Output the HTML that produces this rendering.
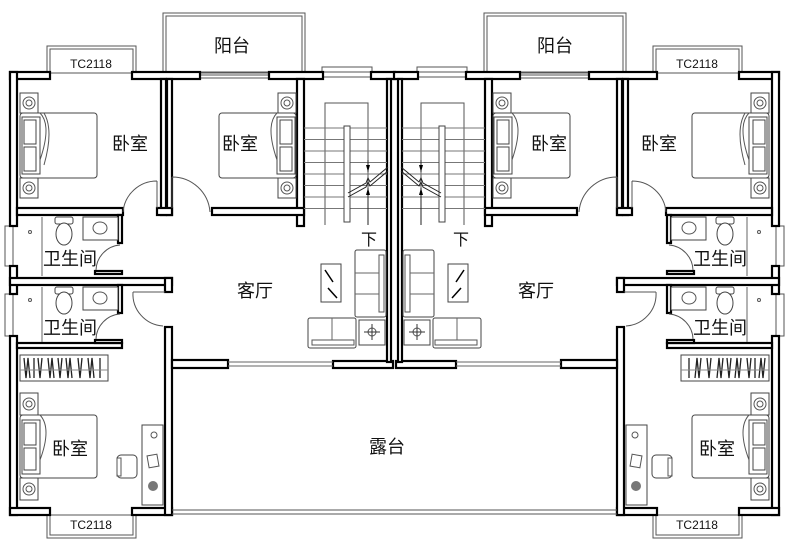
<!DOCTYPE html>
<html><head><meta charset="utf-8"><style>
html,body{margin:0;padding:0;background:#fff;}
svg{display:block;}
text{font-family:"Liberation Sans","Noto Sans CJK SC",sans-serif;fill:#111;}
.w{fill:#fff;stroke:#000;stroke-width:2.2;}
.t{fill:none;stroke:#555;stroke-width:1;}
.f{fill:#fff;stroke:#444;stroke-width:1;}
</style></head><body>
<svg width="789" height="547" viewBox="0 0 789 547" xmlns="http://www.w3.org/2000/svg">
<defs>
<g id="half">
  <!-- balcony & bay windows -->
  <rect x="163" y="13" width="142" height="60" class="t"/>
  <rect x="166" y="16" width="136" height="57" class="t"/>
  <rect x="47" y="46" width="89" height="27" class="t"/>
  <rect x="50" y="49" width="83" height="24" class="t"/>
  <rect x="47" y="515" width="89" height="23" class="t"/>
  <rect x="50" y="515" width="83" height="20" class="t"/>
  <!-- windows -->
  <rect x="200" y="72" width="69" height="6" class="t"/>
  <line x1="200" y1="75" x2="269" y2="75" stroke="#555"/>
  <rect x="322" y="67" width="50" height="10" class="t"/>
  <line x1="322" y1="72" x2="372" y2="72" stroke="#555"/>
  <rect x="5" y="226" width="8" height="40" class="t"/>
  <rect x="5" y="294" width="8" height="42" class="t"/>
  <!-- walls -->
  <rect x="10" y="72" width="40" height="7" class="w"/>
  <rect x="132" y="72" width="68" height="7" class="w"/>
  <rect x="269" y="72" width="54" height="7" class="w"/>
  <rect x="371" y="72" width="24" height="7" class="w"/>
  <rect x="10" y="72" width="7" height="154" class="w"/>
  <rect x="10" y="266" width="7" height="28" class="w"/>
  <rect x="10" y="336" width="7" height="179" class="w"/>
  <rect x="10" y="508" width="40" height="7" class="w"/>
  <rect x="132" y="508" width="40" height="7" class="w"/>
  <rect x="161" y="79" width="5" height="136" class="w"/>
  <rect x="167" y="79" width="5" height="136" class="w"/>
  <rect x="157" y="208" width="15" height="7" class="w"/>
  <rect x="297" y="79" width="7" height="147" class="w"/>
  <rect x="17" y="208" width="106" height="7" class="w"/>
  <rect x="212" y="208" width="92" height="7" class="w"/>
  <rect x="118" y="215" width="4" height="28" class="w"/>
  <rect x="95" y="271" width="27" height="3" class="w"/>
  <rect x="10" y="278" width="162" height="7" class="w"/>
  <rect x="165" y="278" width="7" height="14" class="w"/>
  <rect x="118" y="285" width="4" height="28" class="w"/>
  <rect x="17" y="343" width="105" height="5" class="w"/>
  <rect x="95" y="340" width="27" height="3" class="w"/>
  <rect x="165" y="327" width="7" height="188" class="w"/>
  <rect x="172" y="360" width="56" height="8" class="w"/>
  <rect x="333" y="361" width="60" height="7" class="w"/>
  <rect x="387" y="79" width="4" height="283" class="w"/>
  <line x1="228" y1="362" x2="333" y2="362" stroke="#666"/>
  <line x1="228" y1="366" x2="333" y2="366" stroke="#666"/>
  <!-- terrace -->
  <line x1="172" y1="510" x2="395" y2="510" stroke="#555"/>
  <line x1="172" y1="514" x2="395" y2="514" stroke="#555"/>
  <!-- doors -->
  <path d="M157,181 L157,208 M157,181 A34,34 0 0 0 123,212" class="t" stroke="#222"/>
  <path d="M172,177 L172,208 M172,177 A38,38 0 0 1 210,212" class="t" stroke="#222"/>
  <path d="M120,245 A26,26 0 0 0 96,270" class="t" stroke="#222"/>
  <path d="M120,314 A26,26 0 0 0 96,339" class="t" stroke="#222"/>
  <path d="M133,292 L165,292 M133,292 A32,32 0 0 0 163,326" class="t" stroke="#222"/>
  <!-- bedroom1 bed -->
  <rect x="20" y="113" width="77" height="65" rx="3" class="f"/>
  <rect x="22" y="117" width="18" height="57" class="f"/>
  <rect x="24" y="120" width="12" height="24" class="f"/>
  <rect x="24" y="147" width="12" height="24" class="f"/>
  <path d="M40,113 Q52,125 40,160" class="t"/><path d="M44,113 Q54,130 44,165" class="t"/>
  <rect x="20" y="93" width="18" height="20" class="f"/><circle cx="29" cy="103" r="6" class="t"/><circle cx="29" cy="103" r="3" class="t"/>
  <rect x="20" y="178" width="18" height="20" class="f"/><circle cx="29" cy="188" r="6" class="t"/><circle cx="29" cy="188" r="3" class="t"/>
  <!-- bedroom2 bed -->
  <rect x="219" y="113" width="77" height="65" rx="3" class="f"/>
  <rect x="277" y="117" width="18" height="57" class="f"/>
  <rect x="280" y="120" width="12" height="24" class="f"/>
  <rect x="280" y="147" width="12" height="24" class="f"/>
  <path d="M277,113 Q265,125 277,160" class="t"/>
  <rect x="278" y="93" width="18" height="20" class="f"/><circle cx="287" cy="103" r="6" class="t"/><circle cx="287" cy="103" r="3" class="t"/>
  <rect x="278" y="178" width="18" height="20" class="f"/><circle cx="287" cy="188" r="6" class="t"/><circle cx="287" cy="188" r="3" class="t"/>
  <!-- bottom bedroom -->
  <rect x="20" y="415" width="77" height="63" rx="3" class="f"/>
  <rect x="22" y="420" width="18" height="54" class="f"/>
  <rect x="24" y="423" width="12" height="22" class="f"/>
  <rect x="24" y="448" width="12" height="22" class="f"/>
  <path d="M40,415 Q52,428 40,460" class="t"/>
  <rect x="20" y="393" width="18" height="22" class="f"/><circle cx="29" cy="404" r="6" class="t"/><circle cx="29" cy="404" r="3" class="t"/>
  <rect x="20" y="478" width="18" height="22" class="f"/><circle cx="29" cy="489" r="6" class="t"/><circle cx="29" cy="489" r="3" class="t"/>
  <rect x="20" y="355" width="88" height="26" class="f"/>
  <path d="M24,358 l2,20 l2,-20 l2,20 M34,358 l0,20 M38,358 l2,20 l2,-20 M48,358 l2,20 l2,-20 l2,20 M58,358 l2,20 l2,-20 M66,358 l2,20 l2,-20 l2,20 M78,358 l2,20 l2,-20 M88,358 l2,20 l2,-20 l2,20 M100,358 l0,20" stroke="#222" stroke-width="1.3" fill="none"/>
  <line x1="20" y1="370" x2="108" y2="370" stroke="#888"/>
  <rect x="142" y="425" width="21" height="80" class="f"/>
  <circle cx="154" cy="435" r="3" class="t"/>
  <rect x="148" y="455" width="10" height="12" class="t" transform="rotate(-10 153 461)"/>
  <circle cx="153" cy="486" r="5" fill="#777"/>
  <rect x="117" y="455" width="20" height="23" rx="4" class="f"/>
  <rect x="117" y="458" width="4" height="18" class="t"/>
  <!-- baths -->
  <line x1="42" y1="217" x2="42" y2="276" stroke="#666"/>
  <circle cx="30" cy="232" r="1.5" class="t"/>
  <rect x="55" y="217" width="18" height="7" rx="2" class="f"/>
  <ellipse cx="64" cy="234" rx="8" ry="11" class="f"/>
  <rect x="83" y="217" width="35" height="23" class="f"/>
  <ellipse cx="100" cy="228" rx="7" ry="6" class="t"/>
  <line x1="42" y1="287" x2="42" y2="342" stroke="#666"/>
  <circle cx="30" cy="300" r="1.5" class="t"/>
  <rect x="55" y="287" width="18" height="7" rx="2" class="f"/>
  <ellipse cx="64" cy="303" rx="8" ry="11" class="f"/>
  <rect x="83" y="287" width="35" height="23" class="f"/>
  <ellipse cx="100" cy="298" rx="7" ry="6" class="t"/>
  <!-- stairs -->
  <path d="M325,225 L325,103 L368,103 L368,225" class="t"/>
  <g stroke="#777" stroke-width="1">
    <line x1="304" y1="128" x2="387" y2="128"/><line x1="304" y1="139.5" x2="387" y2="139.5"/>
    <line x1="304" y1="151" x2="387" y2="151"/><line x1="304" y1="162.5" x2="387" y2="162.5"/>
    <line x1="304" y1="174" x2="387" y2="174"/><line x1="304" y1="185.5" x2="387" y2="185.5"/>
    <line x1="304" y1="197" x2="387" y2="197"/><line x1="304" y1="208.5" x2="387" y2="208.5"/>
  </g>
  <rect x="344" y="126" width="6" height="96" class="f"/>
  <path d="M348,193 L366,183 L368,178 L370,182 L388,167" fill="none" stroke="#222" stroke-width="1"/>
  <path d="M348,197 L366,187 L368,182 L370,186 L388,171" fill="none" stroke="#222" stroke-width="1"/>
  <path d="M368,160 L368,172 M368,188 L368,225" stroke="#222"/>
  <path d="M366,165 L368,172 L370,165 Z M366,195 L368,188 L370,195 Z" fill="#000"/>
  <!-- living furniture -->
  <rect x="321" y="264" width="20" height="38" class="f"/>
  <path d="M325,270 L333,282 M328,288 L337,298" stroke="#000" stroke-width="1.5"/>
  <rect x="355" y="250" width="31" height="67" rx="2" class="f"/>
  <rect x="379" y="255" width="5" height="57" class="t"/>
  <line x1="355" y1="273" x2="379" y2="273" stroke="#666"/><line x1="355" y1="294" x2="379" y2="294" stroke="#666"/>
  <rect x="308" y="318" width="48" height="30" rx="2" class="f"/>
  <rect x="312" y="340" width="42" height="5" class="t"/>
  <line x1="332" y1="318" x2="332" y2="340" stroke="#666"/>
  <rect x="359" y="320" width="26" height="25" class="f"/>
  <circle cx="372" cy="332" r="4" class="t"/><path d="M364,332 L380,332 M372,324 L372,340" stroke="#333"/>
</g>
</defs>
<rect x="172" y="368" width="445" height="142" fill="#fff"/>
<use href="#half"/>
<use href="#half" transform="translate(789,0) scale(-1,1)"/>
<g font-size="18" text-anchor="middle">
<text x="130" y="150">卧室</text><text x="240" y="150">卧室</text>
<text x="549" y="150">卧室</text><text x="659" y="150">卧室</text>
<text x="232" y="52">阳台</text><text x="555" y="52">阳台</text>
<text x="255" y="297">客厅</text><text x="536" y="297">客厅</text>
<text x="387" y="453">露台</text>
<text x="70" y="455">卧室</text><text x="717" y="455">卧室</text>
<text x="70" y="265">卫生间</text><text x="70" y="334">卫生间</text>
<text x="720" y="265">卫生间</text><text x="720" y="334">卫生间</text>
<text x="369" y="245" font-size="16">下</text><text x="461" y="245" font-size="16">下</text>
</g>
<g font-size="12" text-anchor="middle" fill="#333">
<text x="91" y="68">TC2118</text><text x="697" y="68">TC2118</text>
<text x="91" y="529">TC2118</text><text x="697" y="529">TC2118</text>
</g>
</svg>
</body></html>
